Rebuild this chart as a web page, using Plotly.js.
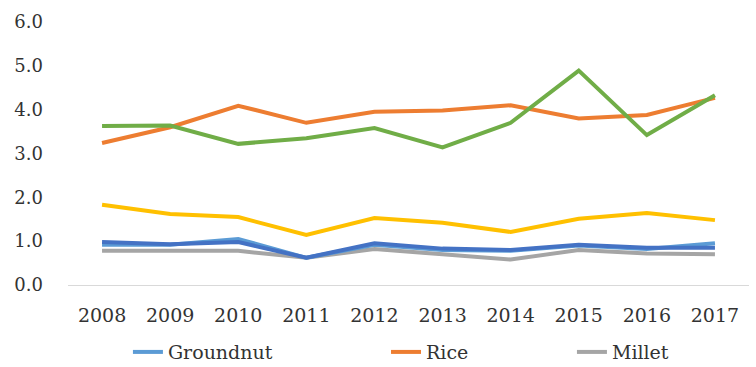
<!DOCTYPE html>
<html>
<head>
<meta charset="utf-8">
<script src="https://cdn.plot.ly/plotly-3.0.1.min.js"></script>
<style>
  html, body { margin: 0; padding: 0; background: #fff; }
  #chart { width: 756px; height: 367px; }
</style>
</head>
<body>
<div id="chart"></div>
<script>
// Crop yields by year (t/ha)
const years = ['2008','2009','2010','2011','2012','2013','2014','2015','2016','2017'];

const groundnut = [0.92, 0.92, 1.05, 0.62, 0.92, 0.80, 0.78, 0.90, 0.82, 0.95];
const rice      = [3.24, 3.60, 4.09, 3.70, 3.95, 3.98, 4.10, 3.80, 3.88, 4.27];
const millet    = [0.78, 0.78, 0.78, 0.62, 0.82, 0.70, 0.58, 0.80, 0.72, 0.70];
const maize     = [1.83, 1.62, 1.55, 1.14, 1.53, 1.42, 1.21, 1.51, 1.64, 1.48];
const sorghum   = [0.98, 0.93, 0.98, 0.62, 0.95, 0.83, 0.80, 0.92, 0.85, 0.85];
const fonio     = [3.63, 3.64, 3.22, 3.35, 3.58, 3.14, 3.70, 4.89, 3.42, 4.33];

const yTicks = [0, 1, 2, 3, 4, 5, 6];
const yTickText = ['0.0', '1.0', '2.0', '3.0', '4.0', '5.0', '6.0'];

const textColor = '#333333';
const serif = 'DejaVu Serif';

function series(name, y, color, legend, show) {
  return {
    type: 'scatter', mode: 'lines', name: name, x: years, y: y,
    line: { color: color, width: 4 },
    showlegend: show, legend: legend
  };
}

const data = [
  series('Maize', maize, '#FFC000', 'legend', false),
  series('Millet', millet, '#A5A5A5', 'legend3', true),
  series('Groundnut', groundnut, '#5B9BD5', 'legend', true),
  series('Sorghum', sorghum, '#4472C4', 'legend', false),
  series('Rice', rice, '#ED7D31', 'legend2', true),
  series('Fonio', fonio, '#70AD47', 'legend', false)
];

function legendAt(x) {
  return {
    orientation: 'h', x: x, xref: 'paper', y: -0.255, yref: 'paper',
    xanchor: 'left', yanchor: 'middle',
    bgcolor: 'rgba(0,0,0,0)', itemwidth: 30,
    font: { family: serif, size: 19, color: textColor }
  };
}

const layout = {
  width: 756, height: 367,
  margin: { l: 68, r: 7, t: 22, b: 82, autoexpand: false },
  paper_bgcolor: '#fff', plot_bgcolor: '#fff',
  font: { family: serif, size: 19, color: textColor },
  xaxis: {
    type: 'category', range: [-0.5, 9.5],
    showgrid: false, zeroline: false,
    showline: true, linecolor: '#d9d9d9', linewidth: 1,
    ticks: '', ticklabelstandoff: 13,
    tickfont: { family: serif, size: 19, color: textColor }
  },
  yaxis: {
    range: [0, 6], tickvals: yTicks, ticktext: yTickText,
    showgrid: false, zeroline: false, showline: false,
    ticks: '', ticklabelstandoff: 24,
    tickfont: { family: serif, size: 18, color: textColor }
  },
  legend: legendAt(0.088),
  legend2: legendAt(0.467),
  legend3: legendAt(0.740)
};

Plotly.newPlot('chart', data, layout, { displayModeBar: false, staticPlot: true });
</script>
</body>
</html>
